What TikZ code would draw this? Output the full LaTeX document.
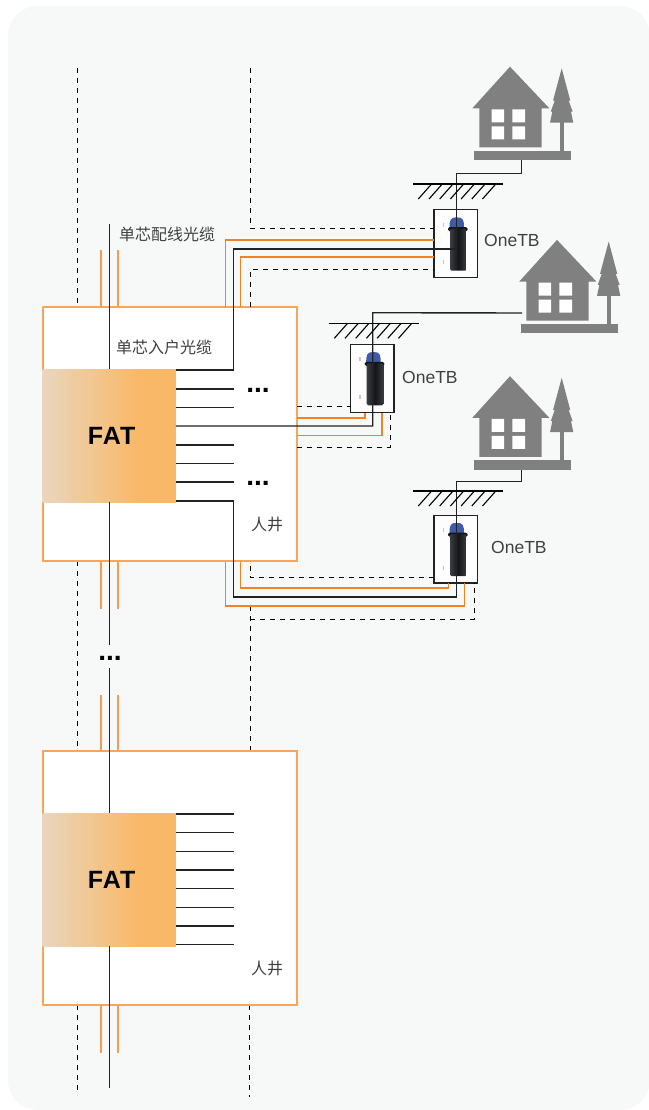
\documentclass[tikz,border=0pt]{standalone}
\usepackage{fontspec}
\setmainfont{Liberation Sans}
\newfontfamily\cjk{Noto Sans CJK SC}
\newfontfamily\lib[LetterSpace=4]{Liberation Sans}
\newfontfamily\libdots{Liberation Sans}
\definecolor{bgc}{HTML}{F7F9F8}
\definecolor{boxo}{HTML}{F9A65C}
\definecolor{stubo}{HTML}{F59B54}
\definecolor{wireo}{HTML}{F58220}
\definecolor{fatl}{HTML}{E9D6BE}
\definecolor{fatr}{HTML}{F9B868}
\definecolor{hous}{HTML}{808080}
\definecolor{inkc}{HTML}{222222}
\definecolor{txtc}{HTML}{404040}
\definecolor{domec}{HTML}{3F5AA6}
\definecolor{bodyc}{HTML}{141518}
\definecolor{bodye}{HTML}{3A3C42}
\pgfdeclarehorizontalshading{fatshade}{100bp}{color(0bp)=(fatl); color(25bp)=(fatl); color(61bp)=(fatr); color(100bp)=(fatr)}
\tikzset{
  manhole/.style={draw=boxo,line width=2pt,fill=white,minimum width=253.4pt,minimum height=253.7pt,inner sep=0pt,outer sep=0pt,anchor=north west},
  fatbox/.style={shading=fatshade,minimum width=133.3pt,minimum height=133pt,inner sep=0pt,outer sep=0pt,anchor=north west,font=\lib\bfseries\fontsize{25}{25}\selectfont,text=black},
  tbbox/.style={draw=inkc,line width=1.1pt,fill=white!60!bgc,minimum width=43.3pt,minimum height=67.8pt,inner sep=0pt,outer sep=0pt,anchor=north west},
  fiber/.style={draw=inkc,line width=1.4pt},
  wire/.style={draw=wireo,line width=1.4pt},
  stub/.style={draw=stubo,line width=1.8pt},
  dashline/.style={draw=black,line width=1pt,dash pattern=on 5pt off 5pt},
  cjktext/.style={text=txtc,font=\cjk\fontsize{16}{16}\selectfont,inner sep=0pt,anchor=west},
  tblabel/.style={text=txtc,font=\fontsize{17.5}{18}\selectfont,inner sep=0pt,anchor=west},
  moredots/.style={text=black,font=\libdots\bfseries\fontsize{28}{28}\selectfont,inner sep=0pt,anchor=base},
  house/.pic={
    \fill[hous] (472.3,108.3) -- (510,66.7) -- (549.3,108.3) -- (541.7,108.3) -- (541.7,147.3) -- (479.3,147.3) -- (479.3,108.3) -- cycle;
    \fill[white] (491.7,109.3) rectangle (504,122.3) (512.3,109.3) rectangle (525,122.3)
                 (491.7,126.3) rectangle (504,139.3) (512.3,126.3) rectangle (525,139.3);
    \fill[hous] (474.3,150.7) rectangle (571,160);
    \fill[hous] (559.7,122) rectangle (564,151);
    \fill[hous] (561.7,68.3) -- (570.3,100.7) -- (568.7,100.7) -- (572.7,111.7) -- (571,111.7) -- (573.3,122.7)
                -- (550,122.7) -- (552.3,111.7) -- (550.7,111.7) -- (554.7,100.7) -- (553,100.7) -- cycle;
  },
  ground/.pic={
    \draw[black,line width=1.1pt] (0,0) -- (89.4,0);
    \foreach \i in {0,...,6}
      \draw[black,line width=1.1pt] ({5+10.7*\i},15) -- ({18.3+10.7*\i},0);
  },
  device/.pic={
    \fill[gray!45] (8.6,13) rectangle (10,17);
    \fill[gray!45] (8.6,50.5) rectangle (10,54.5);
    \fill[domec] (15.5,18) .. controls (15.5,10) and (16.5,7.6) .. (22.7,7.6) .. controls (29,7.6) and (30,10) .. (30,18) -- cycle;
    \fill[bodyc,rounded corners=1.5pt] (14,17.5) rectangle (33.6,21.5);
    \shade[left color=bodye,right color=bodye,middle color=bodyc,rounded corners=1.5pt] (16,19) rectangle (32.7,61);
  }
}
\begin{document}
\begin{tikzpicture}[x=1pt,y=-1pt]
\useasboundingbox (0,0) rectangle (648,1110);
\fill[white] (0,0) rectangle (648,1110);
\fill[bgc,rounded corners=30pt] (8,6) rectangle (650,1110);

% free ends
\coordinate (ltop) at (77.5,68);
\coordinate (rtop) at (250.3,68);
\coordinate (lmidA) at (77.5,750);
\coordinate (lbot) at (77.5,1095);
\coordinate (rbot) at (249,1097);
\coordinate (rmid) at (250.3,606);
\coordinate (ftop) at (109.3,224);
\coordinate (fgapA) at (109.3,645);
\coordinate (fgapB) at (109.3,668);
\coordinate (fbot) at (109.3,1088);
\coordinate (hA) at (521.7,160);
\coordinate (hB) at (522,313);
\coordinate (hC) at (521.7,469.5);

% outer dashed verticals
\draw[dashline] (ltop) -- (77.5,307);
\draw[dashline] (77.5,561) -- (lmidA);
\draw[dashline] (77.5,1005) -- (lbot);
\draw[dashline] (249,1005) -- (rbot);
\draw[dashline] (rmid) -- (250.3,751);

% stubs
\foreach \xx in {100.7,117.7}{
  \draw[stub] (\xx,250) -- (\xx,307);
  \draw[stub] (\xx,561) -- (\xx,609);
  \draw[stub] (\xx,694.5) -- (\xx,751);
  \draw[stub] (\xx,1005) -- (\xx,1053);
}

% manholes
\node[manhole] (mA) at (43.3,307.3) {};
\node[manhole] (mB) at (43.3,751.3) {};
\node[fatbox] (fatA) at (42.5,369) {\hspace{5pt}\raisebox{-3pt}{FAT}};
\node[fatbox] (fatB) at (42.5,813) {\hspace{5pt}\raisebox{-3pt}{FAT}};

% OneTB boxes
\node[tbbox] (tbA) at (434,209.7) {};
\node[tbbox] (tbB) at (350.7,344.4) {};
\node[tbbox] (tbC) at (434,515.2) {};
\pic at (434,209.7) {device};
\pic at (350.7,344.4) {device};
\pic at (434,515.2) {device};

% dashed branches
\draw[dashline] (rtop) -- (250.3,228) -- (tbA.west |- 250.3,228);
\draw[dashline] (250.3,306.5) -- (250.3,269.3) -- (tbA.west |- 250.3,269.3);
\draw[dashline] (mA.east |- 297,406) -- (tbB.west |- 297,406);
\draw[dashline] (mA.east |- 297,447) -- (390,447) -- (390,412.5);
\draw[dashline] (250.3,566) -- (250.3,577.7) -- (tbC.west |- 250.3,577.7);
\draw[dashline] (250.3,619) -- (474.7,619) -- (474.7,583);

% orange wires
\draw[wire] (225.7,306.5) -- (225.7,240) -- (tbA.west |- 225.7,240);
\draw[wire] (240.7,306.5) -- (240.7,257) -- (tbA.west |- 240.7,257);
\draw[wire] (mA.east |- 297,418) -- (365,418) -- (365,412.5);
\draw[wire] (mA.east |- 297,435.3) -- (382,435.3) -- (382,412.5);
\draw[wire] (240.7,561.5) -- (240.7,588) -- (448.7,588) -- (448.7,583);
\draw[wire] (225.7,561.5) -- (225.7,606) -- (464.7,606) -- (464.7,583);

% main fibre
\draw[fiber] (ftop) -- (ftop |- fatA.north);
\draw[fiber] (fatA.south -| ftop) -- (fgapA);
\draw[fiber] (fgapB) -- (fgapB |- fatB.north);
\draw[fiber] (fatB.south -| ftop) -- (fbot);

% drop lines FAT A
\foreach \yy in {389,407.7,445,463.7,482}
  \draw[fiber] (fatA.east |- 176,\yy) -- (233.7,\yy);
\draw[fiber] (fatA.east |- 176,370) -- (233.3,370) -- (233.3,249) -- (456.7,249) -- (456.7,173.3) -- (521.7,173.3) -- (hA);
\draw[fiber] (fatA.east |- 176,426) -- (372.7,426) -- (372.7,312.7) -- (hB);
\draw[fiber] (fatA.east |- 176,501) -- (233.3,501) -- (233.3,597) -- (456.7,597) -- (456.7,481.7) -- (521.7,481.7) -- (hC);

% drop lines FAT B
\foreach \yy in {814,832.7,851.3,870,888.7,907.3,926,944.7}
  \draw[fiber] (fatB.east |- 176,\yy) -- (234,\yy);

% ground
\pic at (413.3,184) {ground};
\pic at (329.3,323.3) {ground};
\pic at (413.3,491) {ground};

% houses
\pic at (0,0) {house};
\pic at (47,173.2) {house};
\pic at (0,309.5) {house};

% labels
\node[cjktext] (t1) at (119,234) {单芯配线光缆};
\node[cjktext] (t2) at (116,347) {单芯入户光缆};
\node[cjktext] (t3) at (251,525) {人井};
\node[cjktext] (t4) at (251,968.5) {人井};
\node[tblabel] (oA) at (484,240) {OneTB};
\node[tblabel] (oB) at (402,377) {OneTB};
\node[tblabel] (oC) at (491,547) {OneTB};
\node[moredots] (d1) at (258,392.5) {...};
\node[moredots] (d2) at (258,485.5) {...};
\node[moredots] (d3) at (110,660) {...};
\end{tikzpicture}
\end{document}
